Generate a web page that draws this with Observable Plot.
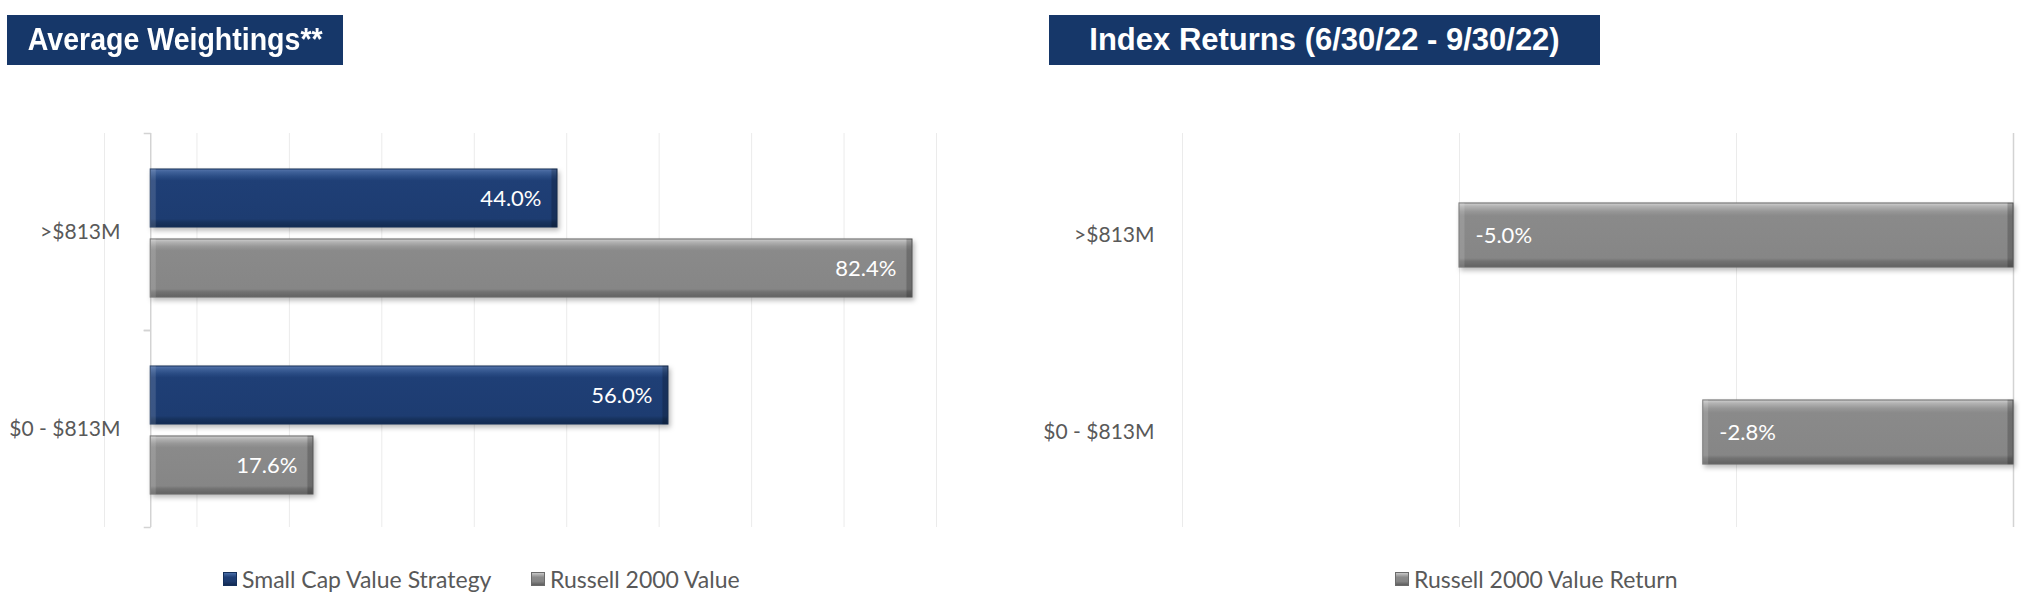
<!DOCTYPE html>
<html>
<head>
<meta charset="utf-8">
<script src="https://cdn.jsdelivr.net/npm/d3@7"></script>
<script src="https://cdn.jsdelivr.net/npm/@observablehq/plot@0.6"></script>
<style>
  html, body { margin: 0; padding: 0; background: #fff; }
  #root { position: relative; width: 2030px; height: 612px; overflow: hidden; font-family: Lato, "Open Sans", sans-serif; }
  .title { position: absolute; top: 15px; height: 50px; background: #163769; color: #fff;
    display: flex; align-items: center; justify-content: center; box-sizing: border-box; white-space: nowrap; }
  .title span { display: inline-block; font-family: "Liberation Sans", Arial, sans-serif; font-weight: bold; font-size: 31px; }
  .chart { position: absolute; top: 120px; }
  .legend-item { position: absolute; top: 565px; height: 28px; display: flex; align-items: center;
    font-size: 23px; color: #595959; white-space: nowrap; }
  .sw { width: 14px; height: 14px; margin-right: 5px; box-sizing: border-box; }
  .sw.navy { background: linear-gradient(#4a6fa8, #1f3f76 35%, #1d3b6e 70%, #122a52); border: 1px solid #14305c; }
  .sw.gray { background: linear-gradient(#c8c8c8, #8a8a8a 35%, #858585 70%, #5e5e5e); border: 1px solid #6b6b6b; }
</style>
</head>
<body>
<div id="root">
  <svg width="0" height="0" style="position:absolute">
    <defs>
      <linearGradient id="gradNavy" x1="0" y1="0" x2="0" y2="1">
        <stop offset="0" stop-color="#5877ad"/>
        <stop offset="0.05" stop-color="#3f6199"/>
        <stop offset="0.13" stop-color="#2a4c84"/>
        <stop offset="0.20" stop-color="#1f3f76"/>
        <stop offset="0.86" stop-color="#1d3c71"/>
        <stop offset="0.91" stop-color="#17335f"/>
        <stop offset="1" stop-color="#122a50"/>
      </linearGradient>
      <linearGradient id="gradGray" x1="0" y1="0" x2="0" y2="1">
        <stop offset="0" stop-color="#d0d0d0"/>
        <stop offset="0.05" stop-color="#b3b3b3"/>
        <stop offset="0.13" stop-color="#979797"/>
        <stop offset="0.20" stop-color="#8a8a8a"/>
        <stop offset="0.86" stop-color="#868686"/>
        <stop offset="0.91" stop-color="#727272"/>
        <stop offset="1" stop-color="#626262"/>
      </linearGradient>
      <filter id="barBevel" x="-5%" y="-20%" width="115%" height="160%" color-interpolation-filters="sRGB">
        <feGaussianBlur in="SourceAlpha" stdDeviation="2.5" result="blur"/>
        <feOffset in="blur" dx="2" dy="3" result="offBlur"/>
        <feFlood flood-color="#000" flood-opacity="0.28"/>
        <feComposite in2="offBlur" operator="in" result="shadow"/>
        <feOffset in="SourceAlpha" dx="6" dy="0" result="shiftR"/>
        <feComposite in="SourceAlpha" in2="shiftR" operator="out" result="leftEdge"/>
        <feFlood flood-color="#fff" flood-opacity="0.13"/>
        <feComposite in2="leftEdge" operator="in" result="leftHL"/>
        <feOffset in="SourceAlpha" dx="-6" dy="0" result="shiftL"/>
        <feComposite in="SourceAlpha" in2="shiftL" operator="out" result="rightEdge"/>
        <feFlood flood-color="#000" flood-opacity="0.2"/>
        <feComposite in2="rightEdge" operator="in" result="rightSH"/>
        <feMerge>
          <feMergeNode in="shadow"/>
          <feMergeNode in="SourceGraphic"/>
          <feMergeNode in="leftHL"/>
          <feMergeNode in="rightSH"/>
        </feMerge>
      </filter>
    </defs>
  </svg>
  <div class="title" style="left:7px;width:336px;"><span style="transform:scaleX(0.92)">Average Weightings**</span></div>
  <div class="title" style="left:1049px;width:551px;"><span style="transform:scaleX(1.0)">Index Returns (6/30/22 - 9/30/22)</span></div>
  <div class="chart" id="leftChart" style="left:0px;"></div>
  <div class="chart" id="rightChart" style="left:1040px;"></div>
  <div class="legend-item" style="left:223px;"><div class="sw navy"></div>Small Cap Value Strategy</div>
  <div class="legend-item" style="left:531px;"><div class="sw gray"></div>Russell 2000 Value</div>
  <div class="legend-item" style="left:1395px;"><div class="sw gray"></div>Russell 2000 Value Return</div>
</div>
<script>
// ---- data ----
const weightCategories = [">$813M", "$0 - $813M"];
const weightSeries = ["Small Cap Value Strategy", "Russell 2000 Value"];
const strategyWeights = [44.0, 56.0];
const russellWeights = [82.4, 17.6];
const weightGridTicks = [-5, 5, 15, 25, 35, 45, 55, 65, 75, 85];

const returnCategories = [">$813M", "$0 - $813M"];
const returnSeries = ["Russell 2000 Value Return"];
const russellReturns = [-5.0, -2.8];
const returnGridTicks = [-7.5, -5, -2.5];

// ---- styles ----
const seriesFill = {
  "Small Cap Value Strategy": "url(#gradNavy)",
  "Russell 2000 Value": "url(#gradGray)",
  "Russell 2000 Value Return": "url(#gradGray)"
};
const seriesStroke = {
  "Small Cap Value Strategy": "#15305a",
  "Russell 2000 Value": "#6a6a6a",
  "Russell 2000 Value Return": "#6a6a6a"
};
const tickSymbol = { draw(ctx) { ctx.moveTo(-7, 0); ctx.lineTo(0, 0); } };
const fmt = v => v.toFixed(1) + "%";

const weightRows = weightCategories.flatMap((c, i) => [
  { category: c, series: weightSeries[0], value: strategyWeights[i] },
  { category: c, series: weightSeries[1], value: russellWeights[i] }
]);
const returnRows = returnCategories.map((c, i) => ({ category: c, series: returnSeries[0], value: russellReturns[i] }));

const baseStyle = { fontFamily: "Lato, 'Open Sans', sans-serif", fontSize: "21px", color: "#595959", background: "transparent", overflow: "visible" };

const left = Plot.plot({
  width: 1000, height: 420,
  marginLeft: 104, marginRight: 64, marginTop: 13, marginBottom: 13,
  style: baseStyle,
  x: { domain: [-5, 85], axis: null },
  y: { domain: weightSeries, paddingInner: 0.165, paddingOuter: 0.479, align: 0.53, axis: null },
  fy: { domain: weightCategories, padding: 0, axis: null },
  color: { type: "identity" },
  marks: [
    Plot.ruleX(weightGridTicks, { stroke: "#ebebeb", strokeWidth: 1 }),
    Plot.ruleX([0], { stroke: "#d3d3d3", strokeWidth: 1.5 }),
    Plot.dot([0], { x: d => d, frameAnchor: "top", symbol: tickSymbol, stroke: "#d3d3d3", fill: "none", strokeWidth: 1.5 }),
    Plot.dot([0], { x: d => d, frameAnchor: "bottom", symbol: tickSymbol, stroke: "#d3d3d3", fill: "none", strokeWidth: 1.5 }),
    Plot.barX(weightRows, { x: "value", y: "series", fy: "category", fill: d => seriesFill[d.series], stroke: d => seriesStroke[d.series], strokeWidth: 1 }),
    Plot.text(weightRows, { x: "value", y: "series", fy: "category", text: d => fmt(d.value), textAnchor: "end", dx: -16, fill: "white", fontSize: 22 }),
    Plot.text(weightCategories, { fy: d => d, text: d => d, frameAnchor: "left", textAnchor: "end", dx: 16, fill: "#595959", fontSize: 21 })
  ]
});

const right = Plot.plot({
  width: 990, height: 420,
  marginLeft: 142, marginRight: 17, marginTop: 13, marginBottom: 13,
  style: baseStyle,
  x: { domain: [-7.5, 0], axis: null },
  y: { domain: returnCategories, paddingInner: 0.675, paddingOuter: 0.3375, align: 0.53, axis: "left", tickSize: 0, tickPadding: 28, label: null },
  color: { type: "identity" },
  marks: [
    Plot.ruleX(returnGridTicks, { stroke: "#ebebeb", strokeWidth: 1 }),
    Plot.ruleX([0], { stroke: "#d3d3d3", strokeWidth: 1.5 }),
    Plot.barX(returnRows, { x: "value", y: "category", fill: d => seriesFill[d.series], stroke: d => seriesStroke[d.series], strokeWidth: 1 }),
    Plot.text(returnRows, { x: "value", y: "category", text: d => fmt(d.value), textAnchor: "start", dx: 16, fill: "white", fontSize: 22 })
  ]
});

for (const svg of [left, right]) {
  d3.select(svg).selectAll('g[aria-label="bar"] rect').attr("filter", "url(#barBevel)");
}
document.getElementById("leftChart").appendChild(left);
document.getElementById("rightChart").appendChild(right);
</script>
</body>
</html>
